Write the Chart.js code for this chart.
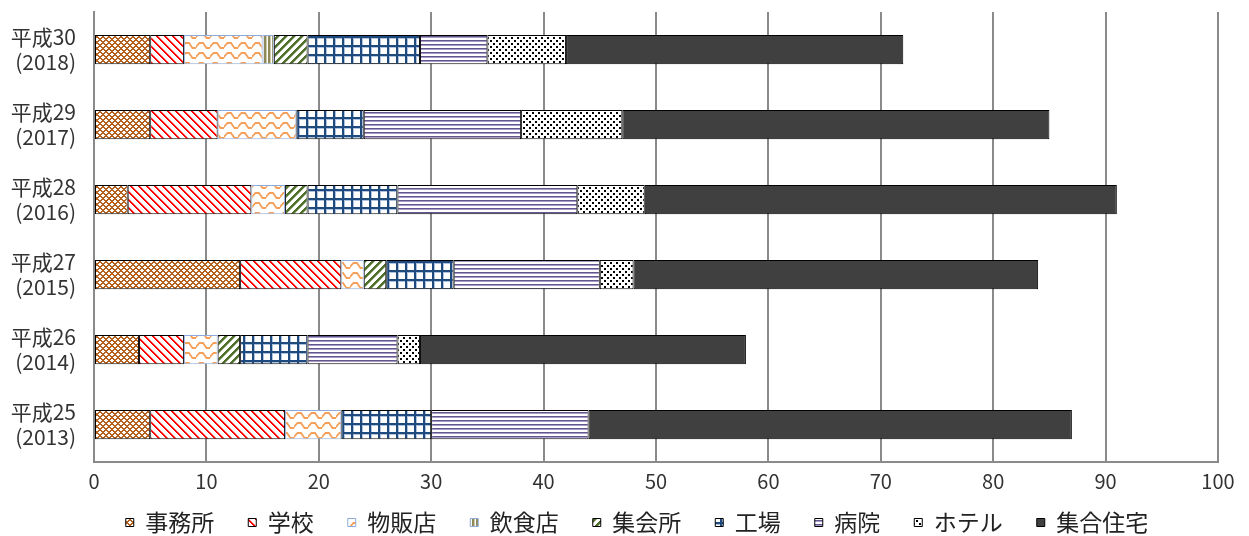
<!DOCTYPE html>
<html><head><meta charset="utf-8">
<script src="https://cdn.jsdelivr.net/npm/chart.js@4"></script>
<style>html,body{margin:0;padding:0;background:#fff;}#wrap{width:1249px;height:536px;}</style>
</head><body><div id="wrap"><canvas id="c" width="1249" height="536"></canvas></div>
<script>
// ---- data ----
const categories = [['平成30','(2018)'],['平成29','(2017)'],['平成28','(2016)'],['平成27','(2015)'],['平成26','(2014)'],['平成25','(2013)']];
const seriesNames = ['事務所','学校','物販店','飲食店','集会所','工場','病院','ホテル','集合住宅'];
const office     = [5, 5, 3, 13, 4, 5];
const school     = [3, 6, 11, 9, 4, 12];
const retail     = [7, 7, 3, 2, 3, 5];
const restaurant = [1, 0, 0, 0, 0, 0];
const hall       = [3, 0, 2, 2, 2, 0];
const factory    = [10, 6, 8, 6, 6, 8];
const hospital   = [6, 14, 16, 13, 8, 14];
const hotel      = [7, 9, 6, 3, 2, 0];
const housing    = [30, 38, 42, 36, 29, 43];
const xTickMin = 0, xTickMax = 100, xTickStep = 10;

// ---- patterns ----
function tile(w, h, draw) {
  const c = document.createElement('canvas'); c.width = w; c.height = h;
  const g = c.getContext('2d'); g.fillStyle = '#fff'; g.fillRect(0, 0, w, h);
  draw(g, w, h);
  return document.getElementById('c').getContext('2d').createPattern(c, 'repeat');
}
function px(g, col, test, w, h) {
  g.fillStyle = col;
  for (let y = 0; y < h; y++) for (let x = 0; x < w; x++) if (test(x, y)) g.fillRect(x, y, 1, 1);
}
const pOffice = tile(6, 6, (g, w, h) => px(g, '#B5601C', (x, y) => {
  const a = (x + y) % 6, b = (x - y + 6) % 6; return a <= 1 || b <= 1;
}, w, h));
const pSchool = tile(8, 8, (g, w, h) => {
  px(g, '#FF0000', (x, y) => { const d = (x - y + 8) % 8; return d === 0 || d === 1; }, w, h);
  px(g, '#FF9A9A', (x, y) => { const d = (x - y + 8) % 8; return d === 2; }, w, h);
});
const pRetail = tile(14, 10, (g) => {
  g.strokeStyle = '#F5A05A'; g.lineWidth = 1.8;
  g.beginPath(); g.moveTo(-1, 8); g.lineTo(3.5, 3); g.lineTo(7, 3); g.lineTo(10.5, 8); g.lineTo(15, 8); g.stroke();
});
const pRest = tile(4, 4, (g, w, h) => { px(g, '#8F895A', (x) => x === 0 || x === 1, w, h); px(g, '#CFCBA8', (x) => x === 2, w, h); });
const pHall = tile(8, 8, (g, w, h) => {
  px(g, '#4F6F2C', (x, y) => { const d = (x + y) % 8; return d <= 2; }, w, h);
  px(g, '#A9BC92', (x, y) => (x + y) % 8 === 3, w, h);
});
const pFactory = tile(9, 9, (g, w, h) => {
  px(g, '#AFC3E0', (x, y) => x === 2 || y === 2, w, h);
  px(g, '#1F4A7E', (x, y) => x <= 1 || y <= 1, w, h);
});
const pHosp = tile(4, 4, (g, w, h) => {
  px(g, '#63558E', (x, y) => y === 0, w, h);
  px(g, '#A79CC5', (x, y) => y === 1, w, h);
});
const pHotel = tile(6, 6, (g, w, h) => px(g, '#000', (x, y) => ((x===1||x===2)&&(y===1||y===2)) || ((x===4||x===5)&&(y===4||y===5)), w, h));

const values = [office, school, retail, restaurant, hall, factory, hospital, hotel, housing];
const fills = [pOffice, pSchool, pRetail, pRest, pHall, pFactory, pHosp, pHotel, '#404040'];
const borders = ['#000', '#000', '#8EAADB', '#8EAADB', '#000', '#000', '#000', '#000', '#000'];

const datasets = seriesNames.map((n, i) => ({
  label: n, data: values[i], backgroundColor: fills[i], borderColor: borders[i],
  borderWidth: 1, borderSkipped: false, categoryPercentage: 0.39, barPercentage: 1
}));

// Legend placement: keep Chart.js legend, nudge its box into the reference position
const legendNudge = {
  id: 'legendNudge',
  afterLayout(chart) {
    const L = chart.legend; if (!L) return;
    const dy = -25, dx = 28;
    L.top += dy; L.bottom += dy; L.left += dx; L.right += dx;
  }
};

const FONT = '"Noto Sans CJK JP", "Noto Sans", sans-serif';
new Chart(document.getElementById('c'), {
  type: 'bar',
  data: { labels: categories, datasets },
  plugins: [legendNudge],
  options: {
    indexAxis: 'y', responsive: false, animation: false,
    layout: { padding: { top: 12, right: 31, bottom: -33, left: 0 } },
    plugins: {
      tooltip: { enabled: false },
      legend: {
        position: 'bottom',
        labels: { font: { family: FONT, size: 23 }, color: '#222', boxWidth: 8, boxHeight: 8, padding: 34 }
      }
    },
    scales: {
      x: {
        stacked: true, min: xTickMin, max: xTickMax,
        ticks: { stepSize: xTickStep, font: { family: FONT, size: 20 }, color: '#333', padding: 7 },
        grid: { color: '#8a8a8a', lineWidth: 2, drawTicks: false },
        border: { color: '#8a8a8a', width: 2 },
        afterFit: s => { s.height = 40; }
      },
      y: {
        stacked: true,
        ticks: { font: { family: FONT, size: 21, lineHeight: 1.15 }, color: '#333', padding: 18 },
        grid: { display: false, drawTicks: false },
        border: { display: true, color: '#8a8a8a', width: 2 },
        afterFit: s => { s.width = 94; s.paddingTop = 0; s.paddingBottom = 0; }
      }
    }
  }
});
</script></body></html>
